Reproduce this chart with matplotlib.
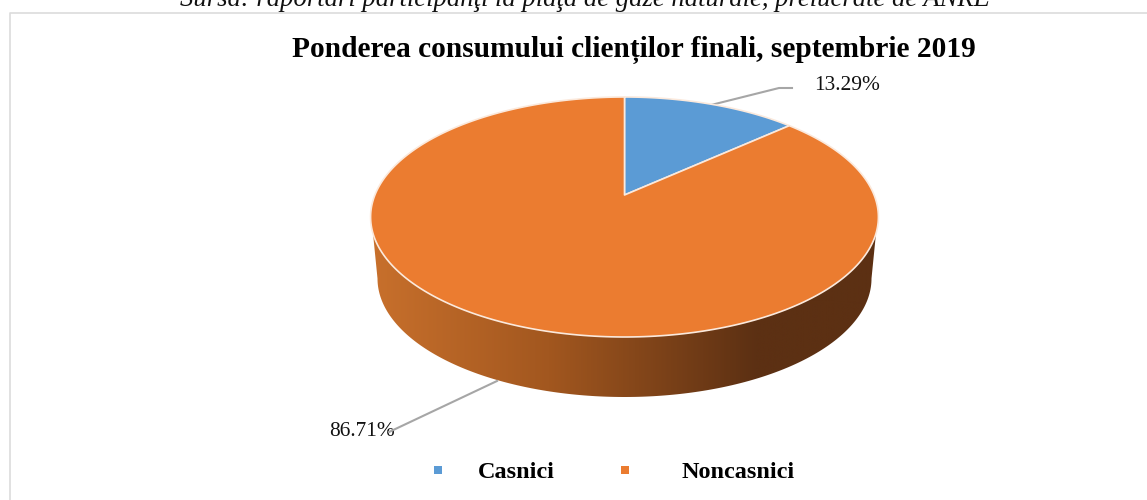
"""Pie chart with perspective, drawn in pixel coordinates of the 1147x500 figure."""
import numpy as np
import matplotlib
matplotlib.use("Agg")
import matplotlib.pyplot as plt
from matplotlib.colors import LinearSegmentedColormap
from matplotlib.patches import Polygon

plt.rcParams["font.family"] = ["Liberation Serif", "DejaVu Serif"]

CATEGORIES = ["Casnici", "Noncasnici"]
SHARES = [13.29, 86.71]
COLORS = ["#5B9BD5", "#EB7C30"]
SOURCE = "Sursa: raportări participanţi la piaţa de gaze naturale, prelucrate de ANRE"
TITLE = "Ponderea consumului clienților finali, septembrie 2019"

# ellipse of the top face and of the bottom edge of the side wall
CX, CY, RX, RY = 624.5, 217.0, 254.0, 120.0
BOTTOM_CY, BOTTOM_RX, BOTTOM_RY = 278.5, 247.0, 118.5
# perspective: apex of the slices sits above the ellipse centre
APEX_SHIFT = -22.0
TILT = 0.1833
SCALE_X = 249.6

# side wall shading, left to right
SIDE_STOPS = [(0.0, "#C8702C"), (0.35, "#A2571F"), (0.76, "#5C3013"), (1.0, "#5C3013")]


def rim(theta):
    """Screen position of a pie angle (radians, clockwise from 12 o'clock)."""
    u, v = np.sin(theta), np.cos(theta)
    d = 1 + TILT * v
    return CX + SCALE_X * u / d, CY + (APEX_SHIFT - RY * v) / d


fig = plt.figure(figsize=(11.47, 5.0), dpi=100)
ax = fig.add_axes([0, 0, 1, 1])
ax.set_xlim(0, 1147)
ax.set_ylim(500, 0)
ax.axis("off")

# chart frame, runs off the right and bottom edges
ax.plot([10, 10, 1147], [500, 12.5, 12.5], color="#DCDCDC", lw=1.2, zorder=1)

# side wall
t = np.radians(np.linspace(0, 180, 200))
top_x, top_y = CX - RX * np.cos(t), CY + RY * np.sin(t)
bot_x, bot_y = CX + BOTTOM_RX * np.cos(t), BOTTOM_CY + BOTTOM_RY * np.sin(t)
keep = top_y >= CY + 16
wall = Polygon(np.column_stack([np.r_[top_x[keep], bot_x], np.r_[top_y[keep], bot_y]]),
               closed=True, fc="none", ec="none", transform=ax.transData)
ax.add_patch(wall)
cmap = LinearSegmentedColormap.from_list("side", SIDE_STOPS)
img = ax.imshow(np.linspace(0, 1, 512)[None, :], cmap=cmap, aspect="auto", zorder=2,
                extent=[CX - RX, CX + RX, 400, 200])
img.set_clip_path(wall)
ax.set_xlim(0, 1147)
ax.set_ylim(500, 0)

# top face, one wedge per share
start = 0.0
for share, color in zip(SHARES, COLORS):
    end = start + share / sum(SHARES) * 2 * np.pi
    x, y = rim(np.linspace(start, end, 300))
    ax.fill(np.r_[CX, x], np.r_[CY + APEX_SHIFT, y], fc=color, ec="#FBE9DC", lw=1.2,
            joinstyle="round", zorder=3)
    start = end

# leader lines
ax.plot([711, 779, 792], [105, 88, 88], color="#A6A6A6", lw=1.5, zorder=2.5)
ax.plot([497, 389], [381, 432], color="#A6A6A6", lw=1.5, zorder=4)

ax.text(847.5, 85, f"{SHARES[0]:.2f}%", fontsize=15.4, ha="center", va="center", color="#111111")
ax.text(362, 431, f"{SHARES[1]:.2f}%", fontsize=15.4, ha="center", va="center", color="#111111")

ax.text(585, 5.5, SOURCE, fontsize=19.2, style="italic", ha="center", va="baseline", color="#111111")
ax.text(634, 50, TITLE, fontsize=21.2, weight="bold", ha="center", va="center", color="black")

# legend
for xm, xt, name, color in zip([437.5, 624.5], [516.5, 738], CATEGORIES, COLORS):
    ax.scatter([xm], [470], marker="s", s=26, color=color, linewidths=0, zorder=3)
    ax.text(xt, 472, name, fontsize=17.5, weight="bold", ha="center", va="center", color="black")

fig.savefig("out.png", dpi=100)
